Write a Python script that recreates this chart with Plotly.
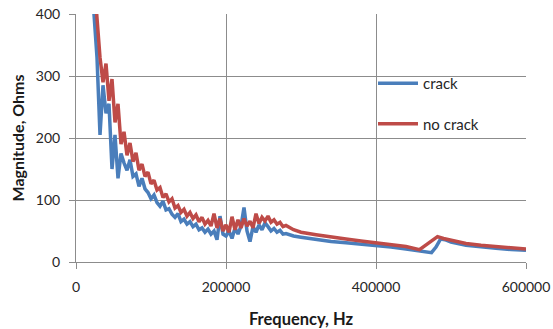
import plotly.graph_objects as go

# Frequency (Hz) sample points
freq_crack = [20000, 24000, 28000, 32000, 36000, 40000, 44000, 48000, 52000, 56000,
              60000, 64000, 68000, 72000, 76000, 80000, 84000, 88000, 92000, 96000,
              100000, 104000, 108000, 112000, 116000, 120000, 124000, 128000, 132000, 136000,
              140000, 144000, 148000, 152000, 156000, 160000, 164000, 168000, 172000, 176000,
              180000, 184000, 188000, 192000, 196000, 200000, 204000, 208000, 212000, 216000,
              220000, 224000, 228000, 232000, 236000, 240000, 244000, 248000, 252000, 256000,
              260000, 264000, 268000, 272000, 276000, 280000,
              290000, 300000, 320000, 340000, 360000, 380000, 400000, 420000, 440000, 460000,
              474000, 480000, 486000, 492000, 500000, 520000, 540000, 560000, 580000, 600000]
mag_crack = [470, 400, 330, 205, 285, 240, 255, 150, 205, 135,
             175, 160, 148, 165, 138, 142, 122, 135, 118, 112,
             102, 108, 96, 90, 98, 84, 86, 77, 72, 78,
             65, 69, 61, 65, 57, 61, 52, 55, 48, 53,
             45, 50, 36, 74, 45, 42, 50, 38, 55, 45,
             58, 88, 50, 33, 57, 48, 60, 52, 63, 57,
             50, 54, 48, 51, 45, 46,
             42, 40, 36, 33, 31, 29, 27, 24, 21, 18,
             15, 24, 37, 36, 32, 27, 24, 22, 20, 19]

freq_nocrack = [20000, 24000, 28000, 32000, 36000, 40000, 44000, 48000, 52000, 56000,
                60000, 64000, 68000, 72000, 76000, 80000, 84000, 88000, 92000, 96000,
                100000, 104000, 108000, 112000, 116000, 120000, 124000, 128000, 132000, 136000,
                140000, 144000, 148000, 152000, 156000, 160000, 164000, 168000, 172000, 176000,
                180000, 184000, 188000, 192000, 196000, 200000, 204000, 208000, 212000, 216000,
                220000, 224000, 228000, 232000, 236000, 240000, 244000, 248000, 252000, 256000,
                260000, 264000, 268000, 272000, 276000, 280000,
                290000, 300000, 320000, 340000, 360000, 380000, 400000, 420000, 440000, 458000,
                470000, 482000, 490000, 500000, 520000, 540000, 560000, 580000, 600000]
mag_nocrack = [520, 460, 400, 330, 290, 320, 260, 295, 225, 255,
               190, 210, 172, 192, 162, 176, 148, 158, 138, 145,
               126, 132, 116, 120, 104, 110, 97, 102, 87, 91,
               80, 85, 74, 80, 70, 76, 65, 72, 61, 67,
               58, 78, 55, 70, 50, 60, 48, 73, 52, 68,
               55, 70, 58, 66, 55, 78, 62, 72, 66, 74,
               64, 68, 61, 64, 57, 59,
               52, 48, 44, 40, 37, 34, 31, 28, 25, 20,
               30, 41, 38, 35, 30, 27, 25, 23, 21]

x_ticks = [0, 200000, 400000, 600000]
y_ticks = [0, 100, 200, 300, 400]

BLUE = "#4A7EBB"
RED = "#BE4B48"
GRID = "#8C8C8C"
FONT = "Lato"

fig = go.Figure()
fig.add_trace(go.Scatter(x=freq_crack, y=mag_crack, mode="lines", name="crack",
                         legendgroup="a", line=dict(color=BLUE, width=3.5)))
fig.add_trace(go.Scatter(x=freq_nocrack, y=mag_nocrack, mode="lines", name="no crack",
                         legendgroup="b", line=dict(color=RED, width=3.5)))

fig.update_layout(
    width=553, height=329,
    margin=dict(l=76, r=27, t=14, b=67),
    paper_bgcolor="white", plot_bgcolor="white",
    font=dict(family=FONT, size=14, color="#262626"),
    showlegend=True,
    legend=dict(x=0.66, y=0.786, xanchor="left", yanchor="top",
                bgcolor="rgba(0,0,0,0)", tracegroupgap=18,
                font=dict(family=FONT, size=15, color="#262626"),
                itemwidth=40),
    xaxis=dict(range=[0, 600000], tickvals=x_ticks, ticktext=[str(v) for v in x_ticks],
               showgrid=True, gridcolor=GRID, gridwidth=1,
               showline=True, linecolor=GRID, linewidth=1,
               ticks="outside", ticklen=6, tickcolor=GRID,
               ticklabelstandoff=6, zeroline=False, automargin=False,
               title=dict(text="<b>Frequency, Hz</b>", font=dict(family=FONT, size=16.5, color="#1a1a1a"),
                          standoff=19)),
    yaxis=dict(range=[0, 400], tickvals=y_ticks,
               showgrid=True, gridcolor=GRID, gridwidth=1,
               showline=True, linecolor=GRID, linewidth=1,
               ticks="outside", ticklen=6, tickcolor=GRID,
               ticklabelstandoff=6, zeroline=False, automargin=False,
               title=dict(text="<b>Magnitude, Ohms</b>", font=dict(family=FONT, size=16, color="#1a1a1a"),
                          standoff=7)),
)

fig.write_html("out.html")
